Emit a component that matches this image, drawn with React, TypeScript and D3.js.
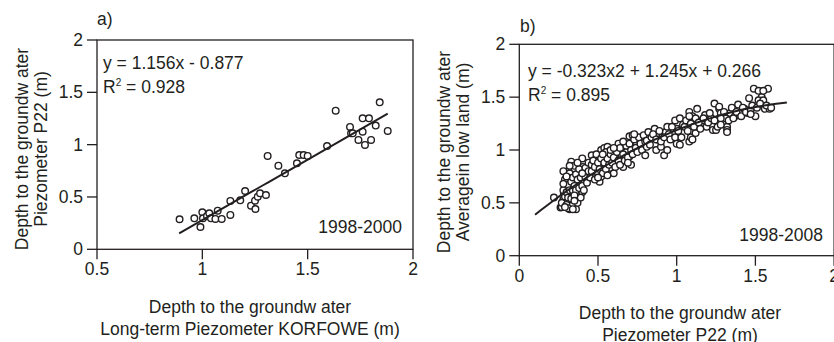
import React from "react";
import * as d3 from "d3";

// panel a) P22 vs KORFOWE, 1998-2000
const pointsA: [number, number][] = [
  [0.892, 0.287], [0.962, 0.296], [0.991, 0.213], [1.0, 0.354], [1.003, 0.296],
  [1.022, 0.318], [1.033, 0.344], [1.041, 0.296], [1.062, 0.29], [1.073, 0.369],
  [1.092, 0.29], [1.133, 0.328], [1.133, 0.462], [1.18, 0.468], [1.203, 0.557],
  [1.231, 0.417], [1.25, 0.465], [1.252, 0.385], [1.263, 0.503], [1.274, 0.535],
  [1.302, 0.519], [1.31, 0.892], [1.361, 0.799], [1.392, 0.726], [1.449, 0.822],
  [1.46, 0.901], [1.481, 0.901], [1.5, 0.892], [1.592, 0.987], [1.633, 1.325],
  [1.701, 1.169], [1.706, 1.108], [1.714, 1.108], [1.741, 1.045], [1.761, 1.252],
  [1.761, 1.124], [1.772, 0.997], [1.791, 1.252], [1.801, 1.045], [1.823, 1.182],
  [1.842, 1.404], [1.88, 1.131],
];

// panel b) low land average vs P22, 1998-2008
const pointsB: [number, number][] = [
  [0.22, 0.55], [0.262, 0.457], [0.27, 0.46], [0.33, 0.46], [0.35, 0.46], [0.32, 0.44],
  [0.283, 0.59], [0.3, 0.65], [0.296, 0.7], [0.3, 0.795], [0.33, 0.86], [0.33, 0.89],
  [0.32, 0.7], [0.34, 0.67], [0.36, 0.72], [0.37, 0.81], [0.405, 0.84], [0.4, 0.92],
  [0.385, 0.59], [0.4, 0.6], [0.35, 0.59], [0.32, 0.52], [0.34, 0.51], [0.36, 0.53],
  [0.28, 0.53], [0.31, 0.75], [0.34, 0.76], [0.37, 0.67], [0.405, 0.7], [0.416, 0.78],
  [0.35, 0.81], [0.28, 0.8],
  [0.27, 0.5], [0.28, 0.62], [0.29, 0.72], [0.29, 0.56], [0.3, 0.48], [0.3, 0.6],
  [0.31, 0.67], [0.31, 0.55], [0.32, 0.78], [0.32, 0.62], [0.33, 0.45], [0.33, 0.7],
  [0.33, 0.54], [0.34, 0.62], [0.34, 0.74], [0.34, 0.48], [0.35, 0.66], [0.35, 0.85],
  [0.36, 0.44], [0.36, 0.62], [0.36, 0.77], [0.37, 0.5], [0.37, 0.72], [0.38, 0.64],
  [0.38, 0.82], [0.39, 0.55], [0.39, 0.74], [0.4, 0.66], [0.41, 0.62], [0.42, 0.74],
  [0.42, 0.83], [0.43, 0.69], [0.44, 0.8], [0.44, 0.88], [0.45, 0.74], [0.28, 0.68],
  [0.3, 0.75], [0.32, 0.85], [0.35, 0.57], [0.37, 0.88], [0.4, 0.78], [0.31, 0.45],
  [0.34, 0.44], [0.35, 0.52], [0.29, 0.46],
  [0.46, 0.86], [0.46, 0.95], [0.48, 0.905], [0.5, 0.78], [0.51, 0.7], [0.52, 0.75],
  [0.53, 0.84], [0.52, 1.0], [0.54, 1.02], [0.56, 1.03], [0.55, 0.94], [0.57, 0.905],
  [0.58, 0.83], [0.6, 0.78], [0.62, 0.86], [0.63, 0.97], [0.65, 0.94], [0.66, 0.84],
  [0.63, 1.06], [0.68, 0.98], [0.7, 0.94], [0.71, 0.86], [0.7, 1.13], [0.72, 1.14],
  [0.74, 1.08], [0.76, 1.03],
  [0.46, 0.8], [0.47, 0.9], [0.48, 0.72], [0.48, 0.84], [0.49, 0.96], [0.5, 0.88],
  [0.51, 0.82], [0.52, 0.92], [0.53, 0.78], [0.54, 0.88], [0.55, 0.98], [0.55, 0.82],
  [0.56, 0.92], [0.57, 0.86], [0.58, 0.96], [0.58, 1.0], [0.59, 0.88], [0.6, 0.93],
  [0.61, 0.84], [0.62, 0.98], [0.63, 0.9], [0.64, 1.02], [0.64, 0.86], [0.66, 0.96],
  [0.67, 0.9], [0.68, 1.04], [0.69, 0.93], [0.7, 1.06], [0.71, 1.0], [0.72, 0.96],
  [0.73, 1.1], [0.74, 1.02], [0.75, 0.98], [0.76, 1.12], [0.77, 1.06], [0.78, 1.0],
  [0.79, 1.14], [0.8, 1.08], [0.5, 0.74], [0.53, 0.96], [0.56, 0.76], [0.6, 1.02],
  [0.66, 1.08], [0.69, 0.88], [0.73, 1.15],
  [0.8, 0.95], [0.81, 1.03], [0.81, 1.09], [0.82, 1.17], [0.84, 1.12], [0.86, 1.2],
  [0.87, 1.0], [0.88, 1.1], [0.9, 1.03], [0.91, 1.13], [0.92, 0.95], [0.93, 1.17],
  [0.94, 1.22], [0.98, 1.17], [0.99, 1.28], [1.0, 1.06], [1.0, 1.2], [1.02, 1.3],
  [1.04, 1.24], [1.08, 1.08], [1.09, 1.12], [1.08, 1.36], [1.1, 1.32], [1.12, 1.16],
  [1.13, 1.39], [1.16, 1.28], [1.18, 1.33], [1.19, 1.22],
  [0.83, 1.05], [0.85, 1.15], [0.87, 1.1], [0.89, 1.18], [0.9, 1.08], [0.92, 1.12],
  [0.95, 1.15], [0.96, 1.1], [0.97, 1.22], [0.99, 1.12], [1.01, 1.18], [1.03, 1.12],
  [1.05, 1.22], [1.06, 1.28], [1.07, 1.18], [1.09, 1.25], [1.11, 1.22], [1.12, 1.3],
  [1.14, 1.26], [1.15, 1.2], [1.17, 1.3], [1.2, 1.26], [1.02, 1.05], [1.1, 1.1],
  [0.94, 1.0], [1.08, 1.32],
  [1.22, 1.3], [1.23, 1.19], [1.24, 1.44], [1.25, 1.19], [1.27, 1.39], [1.27, 1.41],
  [1.28, 1.35], [1.31, 1.3], [1.32, 1.22], [1.32, 1.19], [1.34, 1.35], [1.37, 1.32],
  [1.39, 1.43], [1.4, 1.35], [1.43, 1.39], [1.45, 1.35], [1.46, 1.49], [1.49, 1.58],
  [1.5, 1.32], [1.52, 1.56], [1.54, 1.5], [1.52, 1.47], [1.55, 1.47], [1.58, 1.58],
  [1.56, 1.39], [1.59, 1.39], [1.55, 1.56],
  [1.21, 1.35], [1.24, 1.28], [1.26, 1.22], [1.28, 1.3], [1.3, 1.36], [1.33, 1.28],
  [1.35, 1.4], [1.36, 1.3], [1.38, 1.36], [1.41, 1.32], [1.42, 1.4], [1.44, 1.36],
  [1.47, 1.38], [1.48, 1.42], [1.51, 1.4], [1.53, 1.44], [1.57, 1.42], [1.6, 1.4],
  [1.32, 1.17], [1.28, 1.24], [1.47, 1.34],
];

const ticksAX = [0.5, 1, 1.5, 2];
const ticksBX = [0, 0.5, 1, 1.5, 2];
const ticksY = [0, 0.5, 1, 1.5, 2];

// fitted curves shown on the chart (coefficients as printed)
const fitA = [0, 1.156, -0.877]; // a*x^2 + b*x + c
const fitB = [-0.323, 1.245, 0.266];
const fitRangeA = [0.89, 1.88];
const fitRangeB = [0.1, 1.7];

const FONT = "'Liberation Sans', Arial, Helvetica, sans-serif";
const INK = "#231f20";
const FS = 17.5;
const TICK = 10;

type PanelProps = {
  xDomain: [number, number];
  xRange: [number, number];
  yRange: [number, number];
  xTicks: number[];
  points: [number, number][];
  fit: number[];
  fitRange: number[];
  tag: string;
  tagPos: [number, number];
  eq: string;
  r2: string;
  eqPos: [number, number];
  period: string;
  periodPos: [number, number];
  yTitle: [string, string];
  yTitleX: [number, number];
  yTitleCy: number;
  xTitle: [string, string];
  xTitleCx: number;
  xTitleY: [number, number];
  xLabelY: number;
};

function Panel(p: PanelProps) {
  const x = d3.scaleLinear().domain(p.xDomain).range(p.xRange);
  const y = d3.scaleLinear().domain([0, 2]).range(p.yRange);
  const [x0, x1] = p.xRange;
  const [yb, yt] = p.yRange;
  const f = (v: number) => p.fit[0] * v * v + p.fit[1] * v + p.fit[2];
  const fitLine = d3
    .line<number>()
    .x((v) => x(v))
    .y((v) => y(f(v)))(
    d3.range(0, 41).map((i) => p.fitRange[0] + ((p.fitRange[1] - p.fitRange[0]) * i) / 40)
  );

  return (
    <g fontFamily={FONT} fill={INK}>
      <rect x={x0} y={yt} width={x1 - x0} height={yb - yt} fill="none" stroke={INK} strokeWidth={1.3} />
      {ticksY.map((t) => (
        <g key={"y" + t}>
          <line x1={x0 - TICK} x2={x0} y1={y(t)} y2={y(t)} stroke={INK} strokeWidth={1.3} />
          <text x={x0 - TICK - 4} y={y(t)} dy="0.35em" textAnchor="end" fontSize={FS}>
            {String(t)}
          </text>
        </g>
      ))}
      {p.xTicks.map((t) => (
        <g key={"x" + t}>
          <line x1={x(t)} x2={x(t)} y1={yb} y2={yb + TICK} stroke={INK} strokeWidth={1.3} />
          <text x={x(t)} y={p.xLabelY} textAnchor="middle" fontSize={FS}>
            {String(t)}
          </text>
        </g>
      ))}

      {p.points.map((d, i) => (
        <circle key={i} cx={x(d[0])} cy={y(d[1])} r={3.3} fill="white" stroke={INK} strokeWidth={1.4} />
      ))}
      <path d={fitLine ?? ""} fill="none" stroke={INK} strokeWidth={2} />

      <text x={p.tagPos[0]} y={p.tagPos[1]} fontSize={FS}>{p.tag}</text>
      <text x={p.eqPos[0]} y={p.eqPos[1]} fontSize={FS}>{p.eq}</text>
      <text x={p.eqPos[0]} y={p.eqPos[1] + 24} fontSize={FS}>
        R<tspan fontSize={10} dy={-7}>2</tspan>
        <tspan dy={7}>{" = " + p.r2}</tspan>
      </text>
      <text x={p.periodPos[0]} y={p.periodPos[1]} textAnchor="end" fontSize={FS}>{p.period}</text>

      {p.yTitle.map((s, i) => (
        <text
          key={"yt" + i}
          transform={`translate(${p.yTitleX[i]},${p.yTitleCy}) rotate(-90)`}
          textAnchor="middle"
          fontSize={FS}
        >
          {s}
        </text>
      ))}
      {p.xTitle.map((s, i) => (
        <text key={"xt" + i} x={p.xTitleCx} y={p.xTitleY[i]} textAnchor="middle" fontSize={FS}>
          {s}
        </text>
      ))}
    </g>
  );
}

export default function App() {
  return (
    <svg
      width={834}
      height={342}
      style={{ position: "absolute", left: 0, top: 0, background: "white" }}
    >
      <Panel
        xDomain={[0.5, 2]}
        xRange={[97, 413]}
        yRange={[249.3, 40]}
        xTicks={ticksAX}
        points={pointsA}
        fit={fitA}
        fitRange={fitRangeA}
        tag="a)"
        tagPos={[97, 25]}
        eq="y = 1.156x - 0.877"
        r2="0.928"
        eqPos={[103, 68.5]}
        period="1998-2000"
        periodPos={[402, 233]}
        yTitle={["Depth to the groundw ater", "Piezometer P22 (m)"]}
        yTitleX={[28, 47]}
        yTitleCy={149}
        xTitle={["Depth to the groundw ater", "Long-term Piezometer KORFOWE (m)"]}
        xTitleCx={250}
        xTitleY={[313, 335]}
        xLabelY={275}
      />
      <Panel
        xDomain={[0, 2]}
        xRange={[519.3, 834.1]}
        yRange={[255.7, 44.3]}
        xTicks={ticksBX}
        points={pointsB}
        fit={fitB}
        fitRange={fitRangeB}
        tag="b)"
        tagPos={[520, 31.5]}
        eq="y = -0.323x2 + 1.245x + 0.266"
        r2="0.895"
        eqPos={[528, 76.5]}
        period="1998-2008"
        periodPos={[823, 240.5]}
        yTitle={["Depth to the groundw ater", "Averagein low land (m)"]}
        yTitleX={[450, 469]}
        yTitleCy={152}
        xTitle={["Depth to the groundw ater", "Piezometer P22 (m)"]}
        xTitleCx={680}
        xTitleY={[318.5, 340.5]}
        xLabelY={282}
      />
    </svg>
  );
}
